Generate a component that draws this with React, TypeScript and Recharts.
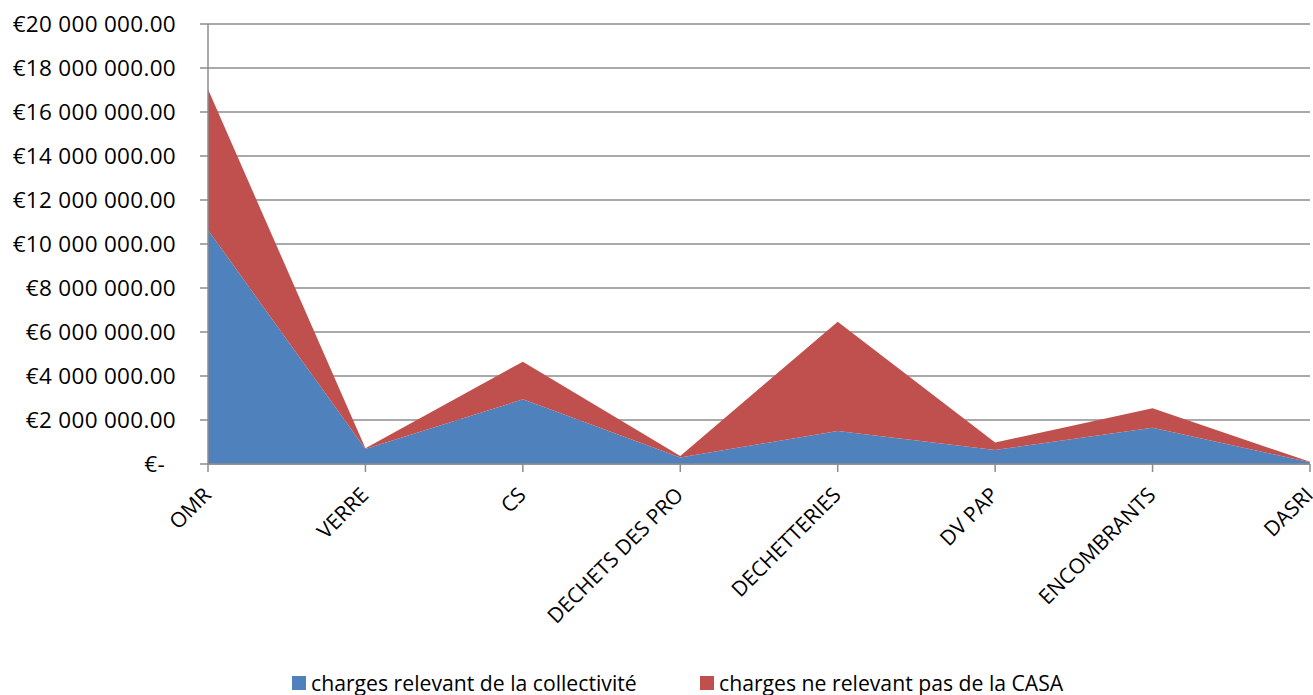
import React from 'react';
import { AreaChart, Area, XAxis, YAxis, CartesianGrid, Legend } from 'recharts';

const categories = ['OMR', 'VERRE', 'CS', 'DECHETS DES PRO', 'DECHETTERIES', 'DV PAP', 'ENCOMBRANTS', 'DASRI'];
const collectivite = [10640000, 680000, 2940000, 300000, 1500000, 640000, 1650000, 80000];
const horsCasa = [6390000, 40000, 1710000, 60000, 4970000, 340000, 880000, 20000];
const yTicks = [0, 2000000, 4000000, 6000000, 8000000, 10000000, 12000000, 14000000, 16000000, 18000000, 20000000];
const seriesNames = ['charges relevant de la collectivité', 'charges ne relevant pas de la CASA'];
const seriesColors = ['#4F81BD', '#C0504D'];

const data = categories.map((c, i) => ({ name: c, a: collectivite[i], b: horsCasa[i] }));

const FONT = '"Open Sans", sans-serif';

const fmt = (v: number) => {
  if (v === 0) return '€-';
  const s = Math.round(v).toString().replace(/\B(?=(\d{3})+(?!\d))/g, ' ');
  return '€' + s + '.00';
};

const YTick = (props: any) => {
  const { x, y, payload } = props;
  const v = payload.value;
  return (
    <text x={v === 0 ? x - 11 : x} y={y} dy="0.36em" textAnchor="end" fontFamily={FONT} fontSize={22.5} letterSpacing={0.3} fill="#000">
      {fmt(v)}
    </text>
  );
};

const XTick = (props: any) => {
  const { x, y, payload } = props;
  const tx = x - 6;
  const ty = y + 12;
  return (
    <text x={tx} y={ty} textAnchor="end" dy="0.7em" fontFamily={FONT} fontSize={21} fill="#000" transform={`rotate(-45, ${tx}, ${ty})`}>
      {payload.value}
    </text>
  );
};

const LegendContent = () => (
  <div style={{ height: 25, position: 'relative', fontFamily: FONT, fontSize: 21.2, color: '#000' }}>
    {seriesNames.map((n, i) => (
      <div key={n} style={{ position: 'absolute', left: i === 0 ? 292 : 700, top: 0, display: 'flex', alignItems: 'center', whiteSpace: 'nowrap', lineHeight: '25px' }}>
        <span style={{ display: 'inline-block', width: 14, height: 14, background: seriesColors[i], marginRight: 5 }} />
        <span>{n}</span>
      </div>
    ))}
  </div>
);

export default function App() {
  return (
    <div style={{ position: 'absolute', left: 0, top: 0, width: 1313, height: 695, background: '#fff' }}>
      <AreaChart width={1313} height={695} data={data} margin={{ top: 24, right: 3, bottom: 0, left: 0 }}>
        <CartesianGrid vertical={false} stroke="#8c8c8c" strokeWidth={1.5} />
        <XAxis
          dataKey="name"
          height={206}
          interval={0}
          tick={<XTick />}
          tickSize={8}
          stroke="#8c8c8c"
          strokeWidth={1.5}
          tickLine={{ stroke: '#8c8c8c', strokeWidth: 1.5 }}
        />
        <YAxis
          width={208}
          domain={[0, 20000000]}
          ticks={yTicks}
          interval={0}
          tick={<YTick />}
          tickSize={8}
          tickMargin={24}
          stroke="#8c8c8c"
          strokeWidth={1.5}
          tickLine={{ stroke: '#8c8c8c', strokeWidth: 1.5 }}
        />
        <Area type="linear" dataKey="a" name={seriesNames[0]} stackId="s" stroke="none" fill={seriesColors[0]} fillOpacity={1} isAnimationActive={false} />
        <Area type="linear" dataKey="b" name={seriesNames[1]} stackId="s" stroke="none" fill={seriesColors[1]} fillOpacity={1} isAnimationActive={false} />
        <Legend verticalAlign="bottom" content={<LegendContent />} wrapperStyle={{ left: 0, width: 1313 }} />
      </AreaChart>
    </div>
  );
}
